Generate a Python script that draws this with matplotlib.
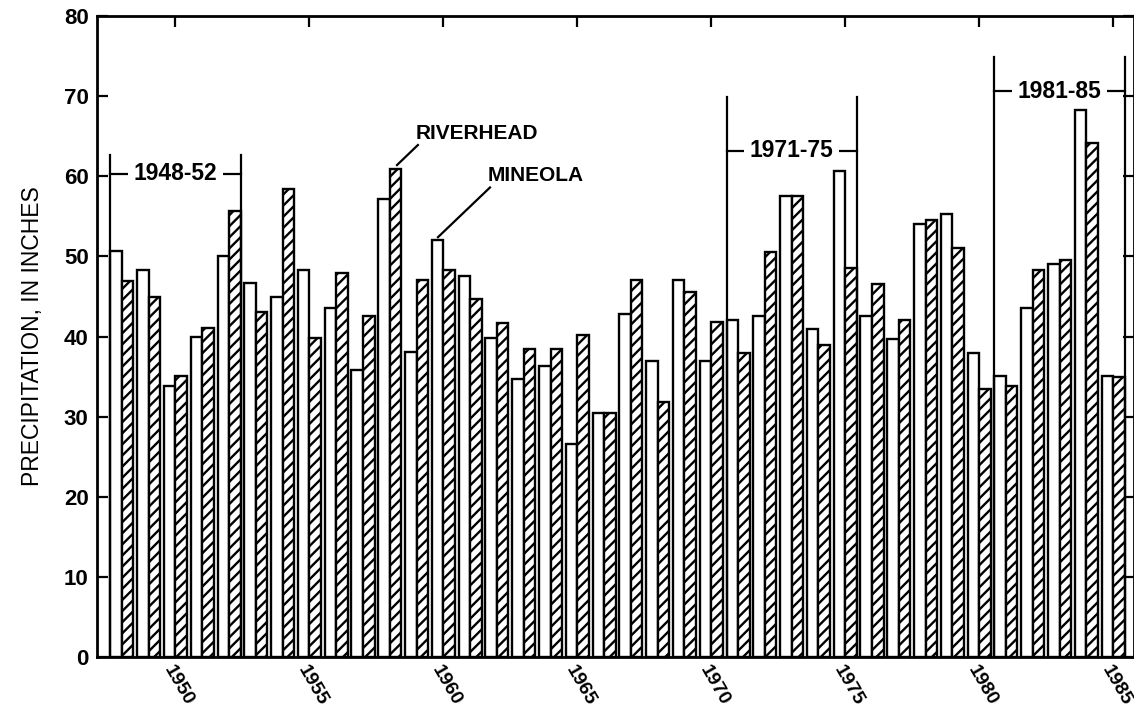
import numpy as np
import matplotlib
matplotlib.use("Agg")
import matplotlib.pyplot as plt
from matplotlib.transforms import ScaledTranslation, blended_transform_factory

# Annual precipitation, inches
years = np.arange(1948, 1986)
mineola = [50.7, 48.3, 33.8, 39.9, 50.0, 46.7, 44.9, 48.3, 43.5, 35.8,
           57.2, 38.1, 52.0, 47.5, 39.8, 34.7, 36.3, 26.6, 30.4, 42.8,
           37.0, 47.1, 36.9, 42.1, 42.6, 57.5, 41.0, 60.6, 42.6, 39.7,
           54.0, 55.3, 37.9, 35.1, 43.5, 49.0, 68.3, 35.1]
riverhead = [46.9, 44.9, 35.1, 41.1, 55.7, 43.1, 58.4, 39.8, 47.9, 42.6,
             60.9, 47.1, 48.3, 44.7, 41.7, 38.5, 38.5, 40.2, 30.4, 47.1,
             31.8, 45.6, 41.8, 37.9, 50.6, 57.5, 38.9, 48.6, 46.5, 42.1,
             54.5, 51.1, 33.5, 33.8, 48.3, 49.6, 64.2, 34.9]
tick_years = [1950, 1955, 1960, 1965, 1970, 1975, 1980, 1985]

# Five-year periods marked above the bars: (first, last, line top, label height)
periods = [(1948, 1952, 62.6, 60.3), (1971, 1975, 69.9, 63.2), (1981, 1985, 74.9, 70.6)]
period_labels = ["1948-52", "1971-75", "1981-85"]

plt.rcParams["font.family"] = ["Liberation Sans", "DejaVu Sans"]
plt.rcParams["hatch.linewidth"] = 1.7
plt.rcParams["hatch.color"] = "black"

fig = plt.figure(figsize=(11.34, 7.12), dpi=100)
ax = fig.add_axes([0.0855, 0.0772, 0.9145, 0.9003])

w = 0.43
ax.bar(years - w / 2, mineola, width=w, color="white", edgecolor="black", linewidth=1.7, zorder=2)
ax.bar(years + w / 2, riverhead, width=w, color="white", edgecolor="black", linewidth=1.7,
       hatch="///", zorder=2)

for (y0, y1, top, ylab), lab in zip(periods, period_labels):
    xl, xr = y0 - w, y1 + w
    ax.plot([xl, xl], [0, top], color="black", lw=1.6, zorder=3)
    ax.plot([xr, xr], [0, top], color="black", lw=1.6, zorder=3)
    ax.plot([xl, xr], [ylab, ylab], color="black", lw=1.6, zorder=3)
    ax.text((xl + xr) / 2, ylab, lab, ha="center", va="center", fontsize=16.5, fontweight="bold",
            bbox=dict(facecolor="white", edgecolor="none", pad=4), zorder=4)

# station labels with leader lines
ax.plot([1958.27, 1959.05], [61.4, 63.9], color="black", lw=1.6, zorder=3)
ax.text(1958.95, 65.4, "RIVERHEAD", ha="left", va="center", fontsize=15, fontweight="bold")
ax.plot([1959.80, 1961.74], [52.4, 58.6], color="black", lw=1.6, zorder=3)
ax.text(1961.67, 60.1, "MINEOLA", ha="left", va="center", fontsize=15, fontweight="bold")

ax.set_xlim(1947.07, 1985.78)
ax.set_ylim(0, 80)
ax.set_yticks(np.arange(0, 81, 10))
ax.set_xticks(tick_years)
for t in ax.get_yticklabels():
    t.set_fontsize(16)
    t.set_fontweight("bold")

ax.tick_params(axis="y", direction="in", length=8, width=1.6, left=True, right=True, pad=6)
ax.tick_params(axis="x", direction="in", length=8, width=1.6, top=True, bottom=False,
               labelbottom=False)

# slanted year labels under the axis
lab_trans = blended_transform_factory(ax.transData, ax.transAxes) + \
    ScaledTranslation(0, -5 / 100, fig.dpi_scale_trans)
for yr in tick_years:
    ax.text(yr, 0, str(yr), transform=lab_trans, rotation=-60, ha="left", va="top",
            rotation_mode="anchor", fontsize=14, fontweight="bold", clip_on=False)

for s in ax.spines.values():
    s.set_linewidth(2)

ax.set_ylabel("PRECIPITATION, IN INCHES", fontsize=16.5)
ax.yaxis.set_label_coords(-0.051, 0.5)

fig.savefig("out.png", dpi=100)
